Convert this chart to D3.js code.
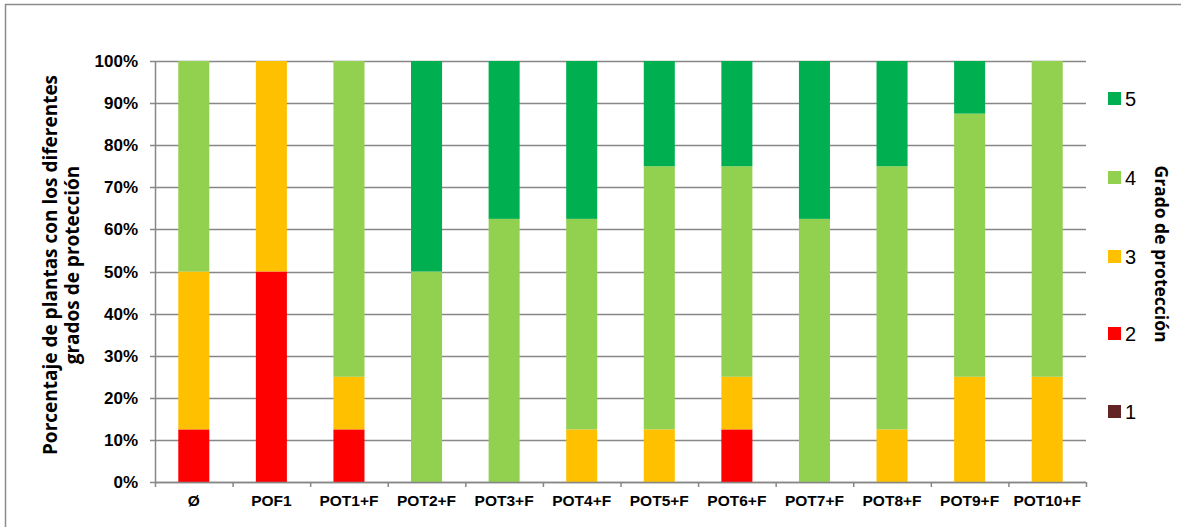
<!DOCTYPE html>
<html><head><meta charset="utf-8">
<script src="https://cdn.jsdelivr.net/npm/d3@7"></script>
<style>body{margin:0;background:#fff}svg{display:block}</style>
</head><body>
<svg id="chart" width="1181" height="527"></svg>
<script>
const categories = ["Ø","POF1","POT1+F","POT2+F","POT3+F","POT4+F","POT5+F","POT6+F","POT7+F","POT8+F","POT9+F","POT10+F"];
const grade1 = [0,0,0,0,0,0,0,0,0,0,0,0];
const grade2 = [12.5,50,12.5,0,0,0,0,12.5,0,0,0,0];
const grade3 = [37.5,50,12.5,0,0,12.5,12.5,12.5,0,12.5,25,25];
const grade4 = [50,0,75,50,62.5,50,62.5,50,62.5,62.5,62.5,75];
const grade5 = [0,0,0,50,37.5,37.5,25,25,37.5,25,12.5,0];
const seriesNames = ["1","2","3","4","5"];
const seriesColors = ["#632523","#FF0000","#FFC000","#92D050","#00B050"];
const yTicks = [0,10,20,30,40,50,60,70,80,90,100];
const yTitle = ["Porcentaje de plantas con los diferentes","grados de protección"];
const legendTitle = "Grado de protección";

const svg = d3.select("#chart");
const m = {left:155, right:1086, top:61, bottom:482};

svg.append("rect").attr("x",5.5).attr("y",4.5).attr("width",1300).attr("height",700)
  .attr("fill","#fff").attr("stroke","#8c8c8c").attr("stroke-width",1.5);

const x = d3.scaleBand().domain(categories).range([m.left,m.right]).paddingInner(0.6).paddingOuter(0.3);
const xb = d3.scaleBand().domain(categories).range([m.left,m.right]);
const y = d3.scaleLinear().domain([0,100]).range([m.bottom,m.top]);

const rows = categories.map((c,i)=>({cat:c,"1":grade1[i],"2":grade2[i],"3":grade3[i],"4":grade4[i],"5":grade5[i]}));
const stacked = d3.stack().keys(seriesNames)(rows);

// gridlines
const g = svg.append("g");
g.selectAll("line.grid").data(yTicks).join("line")
  .attr("x1",m.left-5).attr("x2",m.right)
  .attr("y1",d=>Math.round(y(d))+0.5).attr("y2",d=>Math.round(y(d))+0.5)
  .attr("stroke","#878787").attr("stroke-width",1.5);

// y axis line
g.append("line").attr("x1",m.left+0.5).attr("x2",m.left+0.5).attr("y1",m.top).attr("y2",m.bottom)
  .attr("stroke","#878787").attr("stroke-width",1.5);

// bars
stacked.forEach((s,si)=>{
  svg.append("g").attr("fill",seriesColors[si]).selectAll("rect").data(s).join("rect")
    .attr("x",d=>x(d.data.cat)).attr("width",x.bandwidth())
    .attr("y",d=>y(d[1])).attr("height",d=>y(d[0])-y(d[1]));
});

// x axis
const xa = svg.append("g");
xa.append("line").attr("x1",m.left).attr("x2",m.right).attr("y1",m.bottom+0.5).attr("y2",m.bottom+0.5)
  .attr("stroke","#878787").attr("stroke-width",1.5);
const edges = categories.map(c=>xb(c)).concat([m.right]);
xa.selectAll("line.tick").data(edges).join("line")
  .attr("x1",d=>d+0.5).attr("x2",d=>d+0.5).attr("y1",m.bottom).attr("y2",m.bottom+5)
  .attr("stroke","#878787").attr("stroke-width",1.5);
xa.selectAll("text").data(categories).join("text")
  .attr("x",d=>xb(d)+xb.bandwidth()/2).attr("y",506)
  .attr("text-anchor","middle").attr("font-family","Liberation Sans, Arial, sans-serif")
  .attr("font-weight","bold").attr("font-size",15.5).attr("fill","#000").text(d=>d);

// y labels
svg.append("g").selectAll("text").data(yTicks).join("text")
  .attr("x",138).attr("y",d=>y(d)+6).attr("text-anchor","end")
  .attr("font-family","Liberation Sans, Arial, sans-serif").attr("font-weight","bold")
  .attr("font-size",17).attr("fill","#000").text(d=>d+"%");

// y title
const yt = svg.append("text").attr("transform","rotate(-90)")
  .attr("text-anchor","middle").attr("font-family","Open Sans, sans-serif")
  .attr("font-weight","bold").attr("font-size",19).attr("fill","#000");
yTitle.forEach((t,i)=>{
  yt.append("tspan").attr("x",-265).attr("y",57+i*22).text(t);
});

// legend
const legY = [411,333,256,177,98];
const lg = svg.append("g");
seriesNames.forEach((n,i)=>{
  lg.append("rect").attr("x",1108).attr("y",legY[i]-6).attr("width",13).attr("height",13).attr("fill",seriesColors[i]);
  lg.append("text").attr("x",1125).attr("y",legY[i]+8).attr("font-family","Liberation Sans, Arial, sans-serif")
    .attr("font-size",20).attr("fill","#000").text(n);
});
svg.append("text").attr("transform","translate(1155,254) rotate(90)")
  .attr("text-anchor","middle").attr("font-family","Open Sans, sans-serif")
  .attr("font-weight","bold").attr("font-size",17.5).attr("fill","#000").text(legendTitle);
</script>
</body></html>
